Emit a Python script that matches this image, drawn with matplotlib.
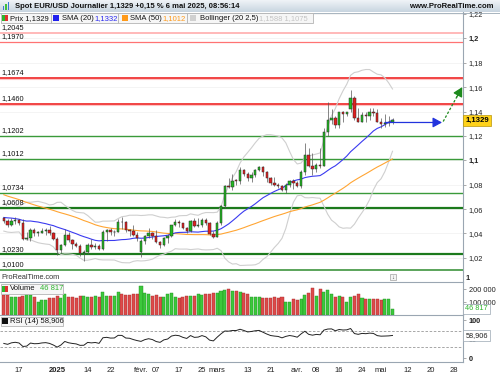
import numpy as np
import pandas as pd
import matplotlib
matplotlib.use('Agg')
import matplotlib.pyplot as plt
from matplotlib.patches import Rectangle
from matplotlib.colors import LinearSegmentedColormap

plt.rcParams['font.family'] = ['Liberation Sans', 'DejaVu Sans']

W, H = 500, 375


def rect(x0, y0, x1, y1):
    # pixel box (top-left origin) -> figure fraction
    return [x0 / W, 1 - y1 / H, (x1 - x0) / W, (y1 - y0) / H]


# closes 30 Sep .. 10 Dec 2024, only used to warm up SMA / Bollinger / RSI
prior_closes = [1.1135, 1.1070, 1.1045, 1.1030, 1.0975, 1.0975, 1.0980, 1.0940, 1.0935, 1.0937,
                1.0910, 1.0890, 1.0862, 1.0830, 1.0865, 1.0818, 1.0796, 1.0780, 1.0827, 1.0797,
                1.0815, 1.0815, 1.0855, 1.0884, 1.0834, 1.0880, 1.0930, 1.0730, 1.0800, 1.0718,
                1.0656, 1.0625, 1.0565, 1.0530, 1.0542, 1.0595, 1.0595, 1.0545, 1.0472, 1.0418,
                1.0495, 1.0485, 1.0565, 1.0555, 1.0577, 1.0497, 1.0510, 1.0513, 1.0586, 1.0567,
                1.0555, 1.0525]

# daily candles 11 Dec 2024 .. 6 May 2025
opens = [1.0525, 1.0500, 1.0468, 1.0500, 1.0512, 1.0490, 1.0355, 1.0362, 1.0430, 1.0405,
         1.0408, 1.0422, 1.0428, 1.0405, 1.0352, 1.0265, 1.0308, 1.0390, 1.0343, 1.0318,
         1.0300, 1.0243, 1.0245, 1.0307, 1.0291, 1.0300, 1.0272, 1.0416, 1.0430, 1.0410,
         1.0413, 1.0495, 1.0493, 1.0430, 1.0424, 1.0390, 1.0245, 1.0340, 1.0380, 1.0403,
         1.0382, 1.0330, 1.0307, 1.0362, 1.0383, 1.0466, 1.0492, 1.0482, 1.0445, 1.0420,
         1.0503, 1.0460, 1.0468, 1.0513, 1.0485, 1.0398, 1.0375, 1.0485, 1.0622, 1.0790,
         1.0785, 1.0833, 1.0832, 1.0920, 1.0890, 1.0852, 1.0880, 1.0922, 1.0942, 1.0900,
         1.0855, 1.0815, 1.0800, 1.0790, 1.0753, 1.0800, 1.0830, 1.0815, 1.0790, 1.0905,
         1.1040, 1.0955, 1.0930, 1.0965, 1.0955, 1.1235, 1.1330, 1.1345, 1.1290, 1.1395,
         1.1380, 1.1420, 1.1510, 1.1345, 1.1315, 1.1375, 1.1365, 1.1400, 1.1390, 1.1318,
         1.1300, 1.1305, 1.1312]
highs = [1.0535, 1.0518, 1.0525, 1.0535, 1.0520, 1.0515, 1.0410, 1.0448, 1.0445, 1.0418,
         1.0445, 1.0445, 1.0460, 1.0412, 1.0370, 1.0312, 1.0436, 1.0412, 1.0352, 1.0330,
         1.0312, 1.0262, 1.0320, 1.0353, 1.0320, 1.0310, 1.0432, 1.0438, 1.0445, 1.0430,
         1.0522, 1.0533, 1.0500, 1.0440, 1.0468, 1.0415, 1.0352, 1.0390, 1.0442, 1.0412,
         1.0430, 1.0340, 1.0370, 1.0395, 1.0472, 1.0515, 1.0512, 1.0490, 1.0455, 1.0510,
         1.0530, 1.0525, 1.0528, 1.0530, 1.0495, 1.0420, 1.0500, 1.0630, 1.0800, 1.0855,
         1.0888, 1.0850, 1.0945, 1.0925, 1.0905, 1.0900, 1.0925, 1.0955, 1.0955, 1.0910,
         1.0865, 1.0860, 1.0815, 1.0800, 1.0810, 1.0838, 1.0845, 1.0830, 1.0920, 1.1145,
         1.1100, 1.1060, 1.0975, 1.1100, 1.1265, 1.1475, 1.1420, 1.1360, 1.1400, 1.1405,
         1.1395, 1.1575, 1.1525, 1.1430, 1.1400, 1.1395, 1.1425, 1.1425, 1.1420, 1.1345,
         1.1380, 1.1365, 1.1345]
lows = [1.0485, 1.0455, 1.0460, 1.0480, 1.0470, 1.0343, 1.0343, 1.0342, 1.0380, 1.0383,
        1.0400, 1.0390, 1.0390, 1.0345, 1.0225, 1.0240, 1.0300, 1.0330, 1.0275, 1.0290,
        1.0212, 1.0178, 1.0230, 1.0275, 1.0275, 1.0266, 1.0265, 1.0340, 1.0390, 1.0380,
        1.0410, 1.0435, 1.0415, 1.0380, 1.0380, 1.0340, 1.0205, 1.0310, 1.0365, 1.0355,
        1.0320, 1.0285, 1.0295, 1.0320, 1.0370, 1.0460, 1.0450, 1.0435, 1.0400, 1.0415,
        1.0455, 1.0450, 1.0450, 1.0470, 1.0390, 1.0360, 1.0370, 1.0470, 1.0610, 1.0770,
        1.0760, 1.0800, 1.0808, 1.0870, 1.0830, 1.0820, 1.0865, 1.0910, 1.0870, 1.0825,
        1.0795, 1.0790, 1.0775, 1.0745, 1.0735, 1.0780, 1.0765, 1.0780, 1.0775, 1.0880,
        1.0945, 1.0880, 1.0900, 1.0940, 1.0950, 1.1200, 1.1300, 1.1265, 1.1265, 1.1315,
        1.1360, 1.1400, 1.1330, 1.1310, 1.1310, 1.1310, 1.1330, 1.1360, 1.1315, 1.1265,
        1.1275, 1.1280, 1.1300]
closes = [1.0500, 1.0468, 1.0500, 1.0512, 1.0490, 1.0355, 1.0362, 1.0430, 1.0405, 1.0408,
          1.0422, 1.0428, 1.0405, 1.0352, 1.0265, 1.0308, 1.0390, 1.0343, 1.0318, 1.0300,
          1.0243, 1.0245, 1.0307, 1.0291, 1.0300, 1.0272, 1.0416, 1.0430, 1.0410, 1.0413,
          1.0495, 1.0493, 1.0430, 1.0424, 1.0390, 1.0362, 1.0340, 1.0380, 1.0403, 1.0382,
          1.0330, 1.0307, 1.0362, 1.0383, 1.0466, 1.0492, 1.0482, 1.0445, 1.0420, 1.0503,
          1.0460, 1.0468, 1.0513, 1.0485, 1.0398, 1.0375, 1.0485, 1.0622, 1.0790, 1.0785,
          1.0833, 1.0832, 1.0920, 1.0890, 1.0852, 1.0880, 1.0922, 1.0942, 1.0900, 1.0855,
          1.0815, 1.0800, 1.0790, 1.0753, 1.0800, 1.0830, 1.0815, 1.0790, 1.0905, 1.1040,
          1.0955, 1.0930, 1.0965, 1.0955, 1.1235, 1.1330, 1.1345, 1.1290, 1.1395, 1.1380,
          1.1392, 1.1510, 1.1345, 1.1315, 1.1375, 1.1365, 1.1400, 1.1390, 1.1318, 1.1300,
          1.1305, 1.1312, 1.1329]
volumes = [154000, 154000, 141000, 141000, 141000, 150000, 159000, 154000, 136000, 103000,
           115000, 115000, 128000, 130000, 146000, 128000, 162000, 141000, 141000, 128000,
           146000, 150000, 141000, 141000, 146000, 141000, 174000, 146000, 146000, 150000,
           174000, 159000, 154000, 154000, 159000, 162000, 223000, 167000, 159000, 150000,
           154000, 141000, 136000, 159000, 167000, 141000, 128000, 141000, 150000, 146000,
           150000, 162000, 154000, 162000, 162000, 167000, 167000, 185000, 192000, 200000,
           185000, 185000, 179000, 167000, 159000, 141000, 136000, 136000, 131000, 128000,
           128000, 141000, 131000, 136000, 103000, 97000, 120000, 115000, 123000, 154000,
           167000, 205000, 150000, 200000, 174000, 192000, 159000, 141000, 146000, 136000,
           103000, 141000, 146000, 159000, 128000, 120000, 120000, 123000, 123000, 115000,
           120000, 123000, 46817]

# values shown by the platform in the legends / tags
price_label = '1,1329'
sma20_label = '1,1332'
sma50_label = '1,1012'
boll_label = '1,1588 1,1075'
volume_label = '46 817'
rsi_label = '58,906'

# horizontal support / resistance levels drawn on the chart
levels = [1.2045, 1.1970, 1.1674, 1.1460, 1.1202, 1.1012, 1.0734, 1.0608, 1.0230, 1.0100]
level_colors = ['#ffb3b3', '#ff7373', '#ee1111', '#ee1111', '#3a9a3a',
                '#3a9a3a', '#3a9a3a', '#1c7a1c', '#1c7a1c', '#2e8b2e']
level_widths = [1.3, 0.9, 1.1, 1.1, 1.0, 1.0, 1.0, 1.6, 1.6, 1.1]

# x axis labels
tick_dates = ['2024-12-17', '2025-01-02', '2025-01-14', '2025-01-22', '2025-02-03', '2025-02-07',
              '2025-02-17', '2025-02-25', '2025-03-03', '2025-03-13', '2025-03-21', '2025-04-01',
              '2025-04-08', '2025-04-16', '2025-04-24', '2025-05-01', '2025-05-12', '2025-05-20',
              '2025-05-28']
tick_labels = ['17', '2025', '14', '22', 'févr.', '07', '17', '25', 'mars', '13', '21', 'avr.',
               '08', '16', '24', 'mai', '12', '20', '28']

# drawn arrows (projection)
flat_arrow = (100, 115, 1.1310)
up_arrow = (115.3, 1.1318, 120.3, 1.1600)

# trading calendar (weekdays, no 25 Dec / 1 Jan)
cal = pd.bdate_range('2024-12-11', '2025-05-30')
cal = cal[~cal.isin(pd.to_datetime(['2024-12-25', '2025-01-01']))]
pos = {d.strftime('%Y-%m-%d'): i for i, d in enumerate(cal)}

opens = np.array(opens); highs = np.array(highs); lows = np.array(lows)
closes = np.array(closes); volumes = np.array(volumes)
n = len(closes)
x = np.arange(n)

# indicators
allc = pd.Series(prior_closes + list(closes))
sma20 = allc.rolling(20).mean().values[-n:]
sma50 = allc.rolling(50).mean().values[-n:]
std20 = allc.rolling(20).std(ddof=0).values[-n:]
bb_up = sma20 + 2.5 * std20
bb_lo = sma20 - 2.5 * std20
d = allc.diff()
gain = d.clip(lower=0).ewm(alpha=1 / 14, adjust=False).mean()
loss = (-d.clip(upper=0)).ewm(alpha=1 / 14, adjust=False).mean()
rsi = (100 - 100 / (1 + gain / loss)).values[-n:]

fig = plt.figure(figsize=(5, 3.75), dpi=100)
fig.patch.set_facecolor('white')

XL = (-1.0, 120.5)
axis_gray = '#9aa6b2'


def clean(a):
    for s in ['left', 'top', 'bottom']:
        a.spines[s].set_visible(False)
    a.spines['right'].set_color(axis_gray)
    a.spines['right'].set_linewidth(0.8)
    a.set_xlim(*XL)
    a.set_xticks([])
    a.yaxis.tick_right()
    a.set_axisbelow(True)
    a.tick_params(axis='y', length=2, width=0.5, color='#888888', labelsize=5.3,
                  pad=2, labelcolor='#222222')


# ---- main price panel ----
ax = fig.add_axes(rect(0, 12.5, 463, 272))
clean(ax)
ax.set_ylim(1.00844, 1.22115)
yt = np.round(np.arange(1.02, 1.2201, 0.02), 2)
ax.set_yticks(yt)
ax.set_yticklabels([f'{v:.2f}'.rstrip('0').replace('.', ',') for v in yt])
for v, lab in zip(yt, ax.get_yticklabels()):
    if abs(v - 1.1) < 1e-6 or abs(v - 1.2) < 1e-6:
        lab.set_fontweight('bold')
ax.grid(axis='y', color='#f3f3f3', lw=0.6)

for lvl, c, lw in zip(levels, level_colors, level_widths):
    if c == '#ee1111':
        ax.axhline(lvl - 0.0009, color='#ffc4c4', lw=0.8, zorder=1)
    ax.axhline(lvl, color=c, lw=lw, zorder=1.2)
    ax.annotate(f'{lvl:.4f}'.replace('.', ','), (XL[0] + 0.4, lvl), xytext=(0, 1.2),
                textcoords='offset points', fontsize=5.3, va='bottom', ha='left',
                color='#111111', zorder=6)

ax.plot(x, bb_up, color='#cfcfcf', lw=0.8, zorder=2)
ax.plot(x, bb_lo, color='#cfcfcf', lw=0.8, zorder=2)
ax.plot(x, sma50, color='#ffa533', lw=0.8, zorder=2)
ax.plot(x, sma20, color='#3a3af0', lw=0.8, zorder=2)

up = closes >= opens
body_col = np.where(up, '#22b822', '#e02020')
ax.vlines(x, lows, highs, color='#555555', lw=0.5, zorder=3)
ax.bar(x, np.maximum(np.abs(closes - opens), 0.0004), bottom=np.minimum(opens, closes),
       width=0.62, color=body_col, edgecolor='#2a2a2a', lw=0.35, zorder=4)

x0a, x1a, ya = flat_arrow
ax.annotate('', xy=(x1a, ya), xytext=(x0a, ya), zorder=5,
            arrowprops=dict(arrowstyle='-|>,head_length=0.55,head_width=0.3',
                            color='#2233dd', lw=0.9, mutation_scale=10, shrinkA=0, shrinkB=0))
gx0, gy0, gx1, gy1 = up_arrow
ax.plot([gx0, gx0 + (gx1 - gx0) * 0.8], [gy0, gy0 + (gy1 - gy0) * 0.8], color='#1d8a1d',
        lw=0.9, ls=(0, (2, 1.5)), zorder=5)
ax.annotate('', xy=(gx1, gy1), xytext=(gx0 + (gx1 - gx0) * 0.7, gy0 + (gy1 - gy0) * 0.7), zorder=5,
            annotation_clip=False,
            arrowprops=dict(arrowstyle='-|>,head_length=0.55,head_width=0.3',
                            color='#1d8a1d', lw=0.9, mutation_scale=10, shrinkA=0, shrinkB=0))

ax.text(1.005, closes[-1], price_label, transform=ax.get_yaxis_transform(),
        fontsize=5.6, fontweight='bold', va='center', ha='left', zorder=8, clip_on=False,
        bbox=dict(boxstyle='square,pad=0.25', fc='#ffd21a', ec='#b8960a', lw=0.5))

# ---- thin empty strip ----
axs = fig.add_axes(rect(0, 272, 463, 282))
clean(axs)
axs.set_ylim(0, 1)
axs.set_yticks([0.5])
axs.set_yticklabels(['1'])
axs.get_yticklabels()[0].set_fontweight('bold')
axs.tick_params(axis='y', length=0)
axs.text(-0.6, 0.45, 'ProRealTime.com', fontsize=5.3, va='center', ha='left', color='#333333')

# ---- volume panel ----
axv = fig.add_axes(rect(0, 282, 463, 315))
clean(axv)
axv.spines['top'].set_visible(True)
axv.spines['top'].set_color(axis_gray)
axv.spines['top'].set_linewidth(0.8)
axv.set_ylim(0, 254000)
axv.set_yticks([100000, 200000])
axv.set_yticklabels(['100 000', '200 000'])
vol_col = np.where(up, '#3cc83c', '#dd4a4a')
vol_edge = np.where(up, '#1f8f1f', '#a82a2a')
axv.bar(x, volumes, width=0.8, color=vol_col, edgecolor=vol_edge, lw=0.3, zorder=2)
axv.text(1.005, volumes[-1], volume_label, transform=axv.get_yaxis_transform(),
         fontsize=5.3, color='#2fb52f', va='center', ha='left', zorder=8, clip_on=False,
         bbox=dict(boxstyle='square,pad=0.25', fc='white', ec='#9aa6b2', lw=0.5))

# ---- RSI panel ----
axr = fig.add_axes(rect(0, 315, 463, 362))
clean(axr)
for s in ['top', 'bottom']:
    axr.spines[s].set_visible(True)
    axr.spines[s].set_color(axis_gray)
    axr.spines[s].set_linewidth(0.8)
axr.set_ylim(-10.5, 113.2)
axr.set_yticks([0, 50, 100])
axr.set_yticklabels(['0', '50', '100'])
for lab in axr.get_yticklabels():
    lab.set_fontweight('bold')
axr.axhline(70, color='#999999', lw=0.6, ls=(0, (3, 2)))
axr.axhline(30, color='#999999', lw=0.6, ls=(0, (3, 2)))
axr.plot(x, rsi, color='#222222', lw=0.7, zorder=3)
axr.text(1.005, rsi[-1], rsi_label, transform=axr.get_yaxis_transform(),
         fontsize=5.3, color='#222222', va='center', ha='left', zorder=8, clip_on=False,
         bbox=dict(boxstyle='square,pad=0.25', fc='white', ec='#9aa6b2', lw=0.5))
axr.set_xticks([pos[dd] for dd in tick_dates])
axr.set_xticklabels(tick_labels)
axr.tick_params(axis='x', length=0, pad=3.5, labelsize=5.5, labelcolor='#222222')
for lab in axr.get_xticklabels():
    if lab.get_text() == '2025':
        lab.set_fontweight('bold')

# ---- overlay: header, legend boxes ----
ov = fig.add_axes([0, 0, 1, 1], zorder=10)
ov.axis('off')
ov.patch.set_alpha(0)

cmap = LinearSegmentedColormap.from_list('hdr', ['#f3f6f9', '#c8d5e0'])
ov.imshow(np.linspace(0, 1, 40).reshape(-1, 1), aspect='auto', cmap=cmap,
          extent=[0, W, 12.5, 0], zorder=1)
ov.plot([0, W], [12.5, 12.5], color='#9aa8b4', lw=0.6, zorder=2)
ov.set_xlim(0, W)
ov.set_ylim(H, 0)
for bx, bh, bc in [(2.5, 4, '#3a7bd5'), (5, 6, '#3fbf3f'), (7.5, 8, '#3a7bd5')]:
    ov.add_patch(Rectangle((bx, 10 - bh), 1.6, bh, fc=bc, ec='none', zorder=3))
ov.text(15, 6.6, 'Spot EUR/USD Journalier 1,1329 +0,15 % 6 mai 2025, 08:56:14', fontsize=5.5,
        fontweight='bold', va='center', ha='left', color='#111111', zorder=3)
ov.text(494, 6.6, 'www.ProRealTime.com', fontsize=5.6, fontweight='bold', va='center',
        ha='right', color='#111111', zorder=3)


def box(x0, y0, x1, y1):
    ov.add_patch(Rectangle((x0, y0), x1 - x0, y1 - y0, fc='#f6f6f6', ec='#b4b4b4', lw=0.6, zorder=3))


def square(x0, y0, c, c2=None):
    if c2 is None:
        ov.add_patch(Rectangle((x0, y0), 6, 6, fc=c, ec='none', zorder=4))
    else:
        ov.add_patch(Rectangle((x0, y0), 3, 6, fc=c, ec='none', zorder=4))
        ov.add_patch(Rectangle((x0 + 3, y0), 3, 6, fc=c2, ec='none', zorder=4))


def txt(x0, y0, s, c='#111111'):
    ov.text(x0, y0, s, fontsize=5.5, va='center', ha='left', color=c, zorder=5)


ly = 18.3
box(0.5, 13.3, 50.7, 23.3)
square(1.8, ly - 3, '#2cb52c', '#e03030')
txt(10, ly, 'Prix ' + price_label)
box(50.7, 13.3, 118.3, 23.3)
square(53, ly - 3, '#2020ee')
txt(61.7, ly, 'SMA (20)')
txt(94.3, ly, sma20_label, '#2a2af0')
box(118.3, 13.3, 187, 23.3)
square(121.5, ly - 3, '#ff9a1a')
txt(130, ly, 'SMA (50)')
txt(162.3, ly, sma50_label, '#ff9a1a')
box(187, 13.3, 313, 23.3)
square(189.5, ly - 3, '#d0d0d0')
txt(200, ly, 'Bollinger (20 2,5)')
txt(259, ly, boll_label, '#c4c4c4')

vy = 289
box(0.5, 284.3, 62.7, 293.8)
square(1.8, vy - 3, '#2cb52c', '#e03030')
txt(10, vy, 'Volume')
txt(40, vy, volume_label, '#2fb52f')

ry = 321.3
box(0.5, 316.7, 62.7, 326)
square(1.8, ry - 3, '#111111')
txt(10, ry, 'RSI (14) ' + rsi_label)

ov.add_patch(Rectangle((389.5, 273.8), 6.5, 6.5, fc='#f4f4f4', ec='#a0a0a0', lw=0.5, zorder=3))
ov.text(392.8, 277.1, '↓', fontsize=4.5, ha='center', va='center', color='#555555', zorder=4)

fig.savefig('out.png', dpi=100, facecolor='white')
